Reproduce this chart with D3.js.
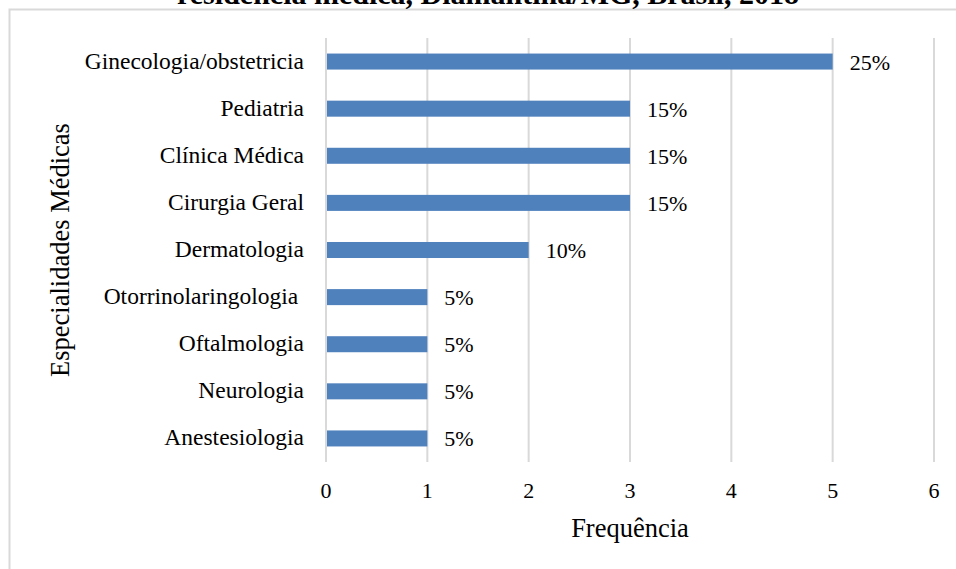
<!DOCTYPE html>
<html>
<head>
<meta charset="utf-8">
<script src="https://cdn.jsdelivr.net/npm/d3@7"></script>
<style>
  body { margin: 0; background: #fff; }
  svg text { font-family: "Liberation Serif", "Times New Roman", serif; fill: #000; }
</style>
</head>
<body>
<svg id="chart" width="956" height="569"></svg>
<script>
var categories = ["Ginecologia/obstetricia", "Pediatria", "Clínica Médica", "Cirurgia Geral",
                  "Dermatologia", "Otorrinolaringologia ", "Oftalmologia", "Neurologia", "Anestesiologia"];
var counts = [5, 3, 3, 3, 2, 1, 1, 1, 1];
var percents = ["25%", "15%", "15%", "15%", "10%", "5%", "5%", "5%", "5%"];
var xTicks = [0, 1, 2, 3, 4, 5, 6];

var svg = d3.select("#chart");
var plotLeft = 326, plotRight = 934, plotTop = 38, plotBottom = 462;

// chart frame (partly outside the picture)
svg.append("rect")
    .attr("x", 9.5).attr("y", 9.5)
    .attr("width", 1000).attr("height", 600)
    .attr("fill", "none")
    .attr("stroke", "#d9d9d9")
    .attr("stroke-width", 2);

// title, cut off at the top
svg.append("text")
    .attr("x", 488).attr("y", 4)
    .attr("text-anchor", "middle")
    .style("font-size", "30px")
    .style("font-weight", "bold")
    .text("residência médica, Diamantina/MG, Brasil, 2018");

var xs = d3.scaleLinear().domain([0, 6]).range([plotLeft, plotRight]);
var ys = d3.scaleBand().domain(categories).range([plotTop, plotBottom]).paddingInner(0.66).paddingOuter(0.33);

// gridlines
svg.append("g")
    .selectAll("line")
    .data(xTicks)
    .enter()
    .append("line")
        .attr("x1", function(d) { return xs(d); })
        .attr("x2", function(d) { return xs(d); })
        .attr("y1", plotTop)
        .attr("y2", plotBottom)
        .attr("stroke", "#d9d9d9")
        .attr("stroke-width", 2);

// bars
svg.append("g")
    .selectAll("rect")
    .data(categories)
    .enter()
    .append("rect")
        .attr("x", xs(0) + 1)
        .attr("y", function(d) { return ys(d); })
        .attr("width", function(d, i) { return xs(counts[i]) - xs(0) - 1; })
        .attr("height", ys.bandwidth())
        .attr("fill", "#4f81bd");

// value labels
svg.append("g")
    .selectAll("text")
    .data(categories)
    .enter()
    .append("text")
        .attr("x", function(d, i) { return xs(counts[i]) + 17; })
        .attr("y", function(d) { return ys(d) + ys.bandwidth() / 2 + 8; })
        .style("font-size", "22px")
        .text(function(d, i) { return percents[i]; });

// category labels
svg.append("g")
    .selectAll("text")
    .data(categories)
    .enter()
    .append("text")
        .attr("x", 304)
        .attr("y", function(d) { return ys(d) + ys.bandwidth() / 2 + 7; })
        .attr("text-anchor", "end")
        .attr("xml:space", "preserve")
        .style("white-space", "pre")
        .style("font-size", "23.5px")
        .text(function(d) { return d; });

// x tick labels
svg.append("g")
    .selectAll("text")
    .data(xTicks)
    .enter()
    .append("text")
        .attr("x", function(d) { return xs(d); })
        .attr("y", 498)
        .attr("text-anchor", "middle")
        .style("font-size", "22px")
        .text(function(d) { return d; });

svg.append("text")
    .attr("x", 630).attr("y", 537)
    .attr("text-anchor", "middle")
    .style("font-size", "26.5px")
    .text("Frequência");

svg.append("text")
    .attr("transform", "rotate(-90)")
    .attr("x", -250).attr("y", 69)
    .attr("text-anchor", "middle")
    .style("font-size", "26.5px")
    .text("Especialidades Médicas");
</script>
</body>
</html>
